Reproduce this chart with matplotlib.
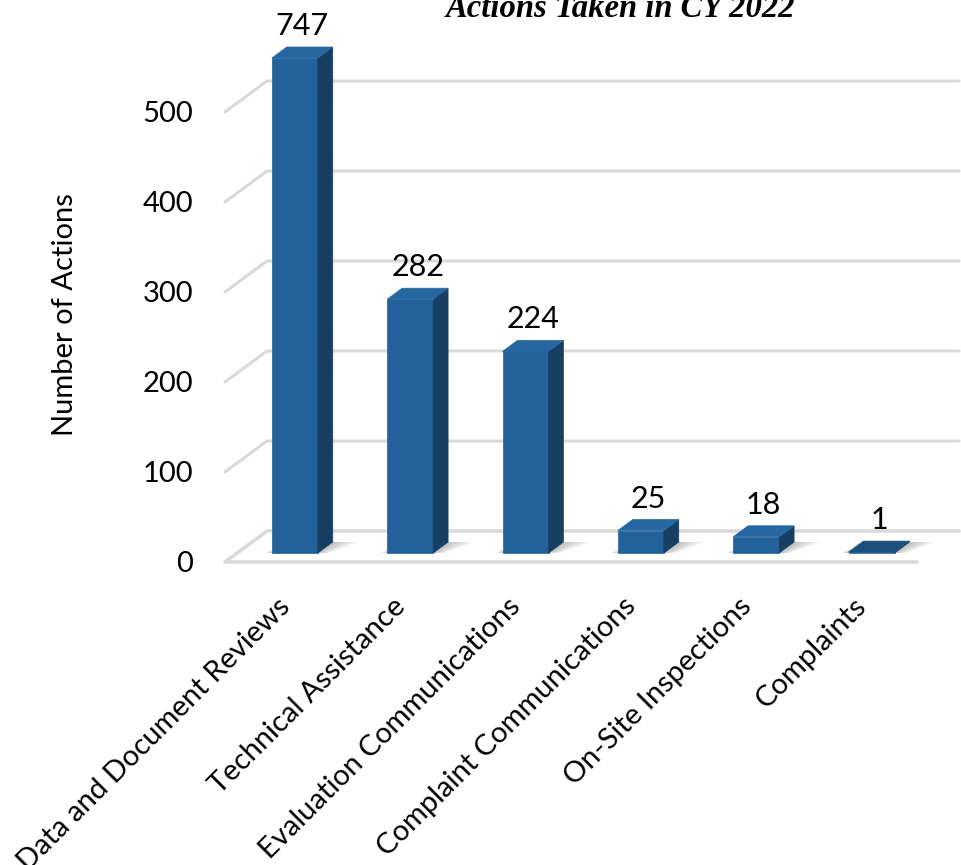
import matplotlib
matplotlib.use("Agg")
import matplotlib.pyplot as plt
from matplotlib.patches import Polygon
from matplotlib.transforms import offset_copy
import numpy as np

# ---- data ----
categories = ["Data and Document Reviews", "Technical Assistance",
              "Evaluation Communications", "Complaint Communications",
              "On-Site Inspections", "Complaints"]
values = [747, 282, 224, 25, 18, 1]
yticks = [0, 100, 200, 300, 400, 500]
ytick_labels = ["0", "100", "200", "300", "400", "500"]
axis_max = 550
title = "Actions Taken in CY 2022"
ylabel = "Number of Actions"

# ---- style ----
plt.rcParams['font.family'] = ['Lato', 'DejaVu Sans']
FS = 21
front_c = '#22619A'
side_c = '#163F62'
top_c = '#2767A1'
grid_c = '#D9D9D9'

W, H = 962, 865
fig = plt.figure(figsize=(W / 100, H / 100), dpi=100)
ax = fig.add_axes([225 / W, (H - 562) / H, 692 / W, 495 / H])
n = len(categories)
ax.set_xlim(-0.5, n - 0.5)
ax.set_ylim(0, axis_max)
for s in ax.spines.values():
    s.set_visible(False)
ax.set_xticks([])
ax.set_yticks(yticks)
ax.set_yticklabels(ytick_labels)
ax.tick_params(axis='y', length=0, pad=23, labelsize=FS)

# depth vector (pixels -> data units)
p0 = ax.transData.transform((0, 0))
p1 = ax.transData.transform((1, 1))
sx, sy = p1[0] - p0[0], p1[1] - p0[1]
ddx = 42 / sx
ddy = 31 / sy

# gridlines / walls
xl, xr = -0.5, n - 0.5
for v in yticks:
    if v == 0:
        continue
    ax.plot([xl, xl + ddx, xr + ddx], [v, v + ddy, v + ddy], color=grid_c,
            lw=2.2, clip_on=False, zorder=1, solid_capstyle='round')
# floor
ax.plot([xr, xl, xl + ddx, xr + ddx], [0, 0, ddy, ddy], color=grid_c,
        lw=2.6, clip_on=False, zorder=1, solid_capstyle='round')

# bars
zf, zb = 0.29, 0.645
w = 23 / sx
for i, v in enumerate(values):
    vc = min(v, axis_max)
    oxf, oyf = zf * ddx, zf * ddy
    oxb, oyb = zb * ddx, zb * ddy
    L, R = i - w, i + w
    # soft shadow at floor level, mostly to the right of the bar
    for k in range(5):
        e = (5 - k) * 3.5 / sx
        shadow = Polygon([(L + oxf - e * 0.4, oyf),
                          (R + oxf + e * 0.6, oyf),
                          (R + oxb + e * 1.5, oyb),
                          (L + oxb, oyb)],
                         closed=True, facecolor='#000000', alpha=0.05,
                         edgecolor='none', clip_on=False, zorder=2)
        ax.add_patch(shadow)
    front = Polygon([(L + oxf, oyf), (R + oxf, oyf), (R + oxf, vc + oyf), (L + oxf, vc + oyf)],
                    closed=True, facecolor=front_c, edgecolor=front_c, lw=0.5,
                    clip_on=False, zorder=4)
    side = Polygon([(R + oxf, oyf), (R + oxb, oyb), (R + oxb, vc + oyb), (R + oxf, vc + oyf)],
                   closed=True, facecolor=side_c, edgecolor=side_c, lw=0.5,
                   clip_on=False, zorder=4)
    top = Polygon([(L + oxf, vc + oyf), (R + oxf, vc + oyf), (R + oxb, vc + oyb), (L + oxb, vc + oyb)],
                  closed=True, facecolor=top_c if v > 5 else '#1B4F7E',
                  edgecolor=top_c if v > 5 else '#1B4F7E', lw=0.5,
                  clip_on=False, zorder=5)
    ax.add_patch(front)
    ax.add_patch(side)
    ax.add_patch(top)
    # value label
    tr = offset_copy(ax.transData, fig=fig, x=0, y=7, units='dots')
    ax.text(i + (zf + zb) / 2 * ddx, vc + zb * ddy, f"{v}", transform=tr,
            ha='center', va='bottom', fontsize=FS + 1, color='black', zorder=6,
            clip_on=False)
    # category label
    tr2 = offset_copy(ax.transData, fig=fig, x=0, y=-31, units='dots')
    ax.text(i + zf * ddx, 0, categories[i], transform=tr2, rotation=45,
            ha='right', va='top', fontsize=FS, color='black', clip_on=False)

fig.text(65 / W, 1 - 315 / H, ylabel, rotation=90, ha='center', va='center',
         fontsize=FS, color='black')
fig.text(620 / W, 1 - 17 / H, title, ha='center', va='baseline', fontsize=23.5,
         family=['Liberation Serif', 'DejaVu Serif'], weight='bold', style='italic',
         color='black')

fig.savefig("out.png", dpi=100)
